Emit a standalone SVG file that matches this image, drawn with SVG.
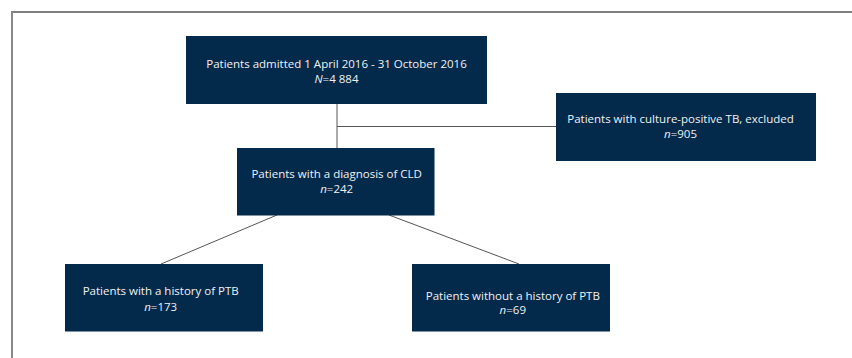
<svg xmlns="http://www.w3.org/2000/svg" width="852" height="358" viewBox="0 0 852 358">
<style>
.box{fill:#03294b}
.t{font-family:"Open Sans","DejaVu Sans",sans-serif;font-size:11.5px;fill:#f2f2f2;text-anchor:middle}
.c{stroke:#555;stroke-width:1;fill:none}
</style>
<rect width="852" height="358" fill="#fff"/>
<g id="frame">
<line x1="11" y1="12" x2="852" y2="12" stroke="#555" stroke-width="1.5"/>
<line x1="12" y1="11.5" x2="12" y2="358" stroke="#888" stroke-width="2"/>
</g>
<g id="connectors">
<line class="c" x1="337" y1="104" x2="337" y2="148"/>
<line class="c" x1="337" y1="126.5" x2="556" y2="126.5"/>
<line class="c" x1="277" y1="215" x2="161" y2="264"/>
<line class="c" x1="389" y1="215" x2="519" y2="264"/>
</g>
<g id="n1">
<rect class="box" x="186" y="36" width="301" height="68"/>
<text class="t" x="336.5" y="68.3">Patients admitted 1 April 2016 - 31 October 2016</text>
<text class="t" x="336.5" y="83.3"><tspan font-style="italic">N</tspan>=4 884</text>
</g>
<g id="n2">
<rect class="box" x="556" y="93" width="260" height="68"/>
<text class="t" x="680.5" y="122.7">Patients with culture-positive TB, excluded</text>
<text class="t" x="680.5" y="138.3"><tspan font-style="italic">n</tspan>=905</text>
</g>
<g id="n3">
<rect class="box" x="237" y="148" width="197.5" height="67.5"/>
<text class="t" x="336.7" y="178.3">Patients with a diagnosis of CLD</text>
<text class="t" x="336.7" y="193.3"><tspan font-style="italic">n</tspan>=242</text>
</g>
<g id="n4">
<rect class="box" x="65" y="264" width="198" height="67.5"/>
<text class="t" x="160.7" y="295">Patients with a history of PTB</text>
<text class="t" x="160.7" y="311"><tspan font-style="italic">n</tspan>=173</text>
</g>
<g id="n5">
<rect class="box" x="412" y="264" width="198" height="67.5"/>
<text class="t" x="512.8" y="300">Patients without a history of PTB</text>
<text class="t" x="512.8" y="314.3"><tspan font-style="italic">n</tspan>=69</text>
</g>
</svg>
